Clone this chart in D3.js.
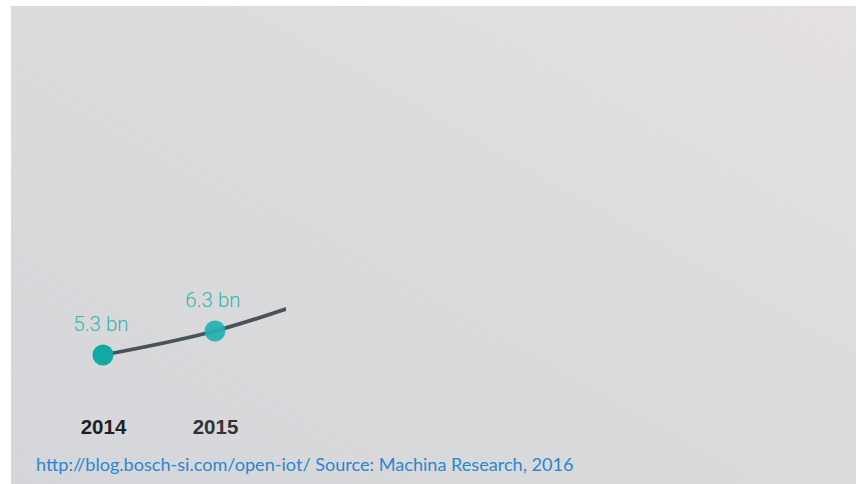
<!DOCTYPE html>
<html><head><meta charset="utf-8">
<script src="https://cdn.jsdelivr.net/npm/d3@7"></script>
<style>html,body{margin:0;padding:0;background:#fff;}svg{display:block;}</style>
</head><body>
<svg id="chart" width="857" height="484"></svg>
<script>
const years = ["2014", "2015", "2016"];
const values = [5.3, 6.3, 7.8];
const valueLabels = ["5.3 bn", "6.3 bn", "7.8 bn"];
const visibleYears = ["2014", "2015"];
const sourceText = "http://blog.bosch-si.com/open-iot/ Source: Machina Research, 2016";

const svg = d3.select("#chart");
const defs = svg.append("defs");
const grad = defs.append("linearGradient").attr("id","bg")
  .attr("x1","0").attr("y1","1").attr("x2","1").attr("y2","0");
grad.append("stop").attr("offset","0").attr("stop-color","#d5d6da");
grad.append("stop").attr("offset","0.5").attr("stop-color","#dbdbdc");
grad.append("stop").attr("offset","1").attr("stop-color","#e4e0e0");
svg.append("rect").attr("x",11).attr("y",6).attr("width",845).attr("height",478).attr("fill","url(#bg)");

defs.append("clipPath").attr("id","clip").append("rect")
  .attr("x",0).attr("y",0).attr("width",286).attr("height",484);

const x = d3.scalePoint().domain(years).range([103, 327]);
const y = d3.scaleLinear().domain([5.3, 6.3]).range([355, 331]);

const data = years.map((yr,i)=>({yr, v: values[i], label: valueLabels[i]}));
const g = svg.append("g").attr("clip-path","url(#clip)");
g.append("path").datum(data)
  .attr("d", d3.line().x(d=>x(d.yr)).y(d=>y(d.v)).curve(d3.curveMonotoneX))
  .attr("fill","none").attr("stroke","#4a5259").attr("stroke-width",3.8);

const shown = data.filter(d=>visibleYears.includes(d.yr));
g.selectAll("circle").data(shown).join("circle")
  .attr("cx",d=>x(d.yr)).attr("cy",d=>y(d.v)).attr("r",10.5)
  .attr("fill",(d,i)=> i===0 ? "#12a8a6" : "#24b0b0").attr("opacity",(d,i)=> i===0?1:0.92);

g.selectAll("text.val").data(shown).join("text").attr("class","val")
  .attr("x",d=>x(d.yr)-2).attr("y",d=>y(d.v)-24)
  .attr("text-anchor","middle").attr("font-family","Roboto, sans-serif")
  .attr("font-weight",300).attr("font-size",20.5).attr("fill","#3ab3ae")
  .text(d=>d.label);

const xAxis = svg.append("g").attr("transform","translate(0,434)")
  .call(d3.axisBottom(x).tickValues(visibleYears).tickSize(0).tickPadding(0));
xAxis.select(".domain").remove();
xAxis.selectAll("text").attr("dy",0).attr("font-family","Liberation Sans, Arial, sans-serif")
  .attr("font-weight","bold").attr("font-size",20.5)
  .attr("fill",(d,i)=> i===0 ? "#1f1f1f" : "#333333");

svg.append("text").attr("x",36).attr("y",471)
  .attr("font-family","Lato, sans-serif").attr("font-size",18.1).attr("fill","#2a86d2")
  .text(sourceText);
</script>
</body></html>
